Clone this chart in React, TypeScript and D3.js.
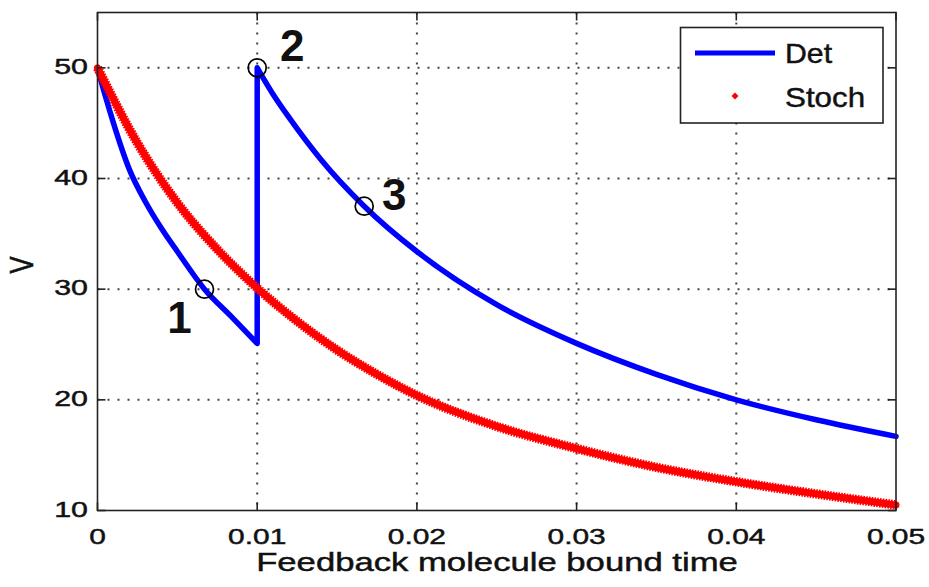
import React from "react";
import * as d3 from "d3";

// ---- data ----
const xTicks = [0, 0.01, 0.02, 0.03, 0.04, 0.05];
const xTickLabels = ["0", "0.01", "0.02", "0.03", "0.04", "0.05"];
const yTicks = [10, 20, 30, 40, 50];
const yTickLabels = ["10", "20", "30", "40", "50"];

// Deterministic: before the event (t <= 0.01)
const detT1 = [0, 0.0005, 0.001, 0.002, 0.003, 0.004, 0.005, 0.0067, 0.0084, 0.01];
const detV1 = [50, 47.4, 45.0, 40.8, 37.9, 35.5, 33.4, 30.0, 27.5, 25.1];
// Deterministic: after the reset (t >= 0.01)
const detT2 = [0.01, 0.011, 0.012, 0.014, 0.0167, 0.02, 0.025, 0.03, 0.035, 0.04, 0.045, 0.05];
const detV2 = [50, 47.6, 45.5, 41.7, 37.5, 33.4, 28.6, 25.1, 22.3, 20.0, 18.2, 16.7];

// Stochastic
const stT = [0, 0.0025, 0.005, 0.0075, 0.01, 0.0125, 0.015, 0.0175, 0.02, 0.025, 0.03, 0.035, 0.04, 0.045, 0.05];
const stV = [50, 43.2, 37.8, 33.6, 30.1, 27.1, 24.5, 22.3, 20.4, 17.6, 15.6, 13.9, 12.6, 11.5, 10.5];

// Annotated points
const markT = [0.0067, 0.01, 0.0167];
const markV = [30, 50, 37.5];
const markLabels = ["1", "2", "3"];

const legendLabels = ["Det", "Stoch"];
const xLabel = "Feedback molecule bound time";
const yLabel = "V";

// ---- layout ----
const W = 929, H = 587;
const L = 97.5, R = 896, TOP = 12.5, BOT = 510.5;
const FONT = "'Liberation Sans', Arial, Helvetica, sans-serif";

const x = d3.scaleLinear().domain([0, 0.05]).range([L, R]);
const y = d3.scaleLinear().domain([10, 55]).range([BOT, TOP]);

type P = [number, number];
const zip = (a: number[], b: number[]): P[] => a.map((t, i) => [t, b[i]]);

const lineGen = d3
  .line<P>()
  .x((d) => x(d[0]))
  .y((d) => y(d[1]))
  .curve(d3.curveMonotoneX);

const detPath =
  (lineGen(zip(detT1, detV1)) || "") +
  (lineGen(zip(detT2, detV2)) || "").replace(/^M/, "L");
const stPath = lineGen(zip(stT, stV)) || "";

function Txt(props: {
  x: number;
  y: number;
  sx?: number;
  size: number;
  anchor?: string;
  weight?: string | number;
  rotate?: number;
  stroke?: number;
  children: React.ReactNode;
}) {
  const { sx = 1, rotate } = props;
  return (
    <text
      transform={`translate(${props.x},${props.y}) scale(${sx},1)${rotate ? ` rotate(${rotate})` : ""}`}
      fontSize={props.size}
      textAnchor={props.anchor || "start"}
      fontWeight={props.weight || "normal"}
      fontFamily={FONT}
      fill="#111"
      stroke="#111"
      strokeWidth={props.stroke ?? 0.45}
    >
      {props.children}
    </text>
  );
}

export default function App() {
  const tickLen = 8;
  return (
    <svg
      width={W}
      height={H}
      viewBox={`0 0 ${W} ${H}`}
      style={{ position: "absolute", left: 0, top: 0, background: "#fff" }}
    >
      <rect x={0} y={0} width={W} height={H} fill="#fff" />
      {/* grid */}
      <g stroke="#444" strokeWidth={2} strokeDasharray="2 8" fill="none">
        {xTicks.slice(1, -1).map((t) => (
          <line key={"gx" + t} x1={x(t)} x2={x(t)} y1={TOP} y2={BOT} />
        ))}
        {yTicks.slice(1).map((v) => (
          <line key={"gy" + v} x1={L} x2={R} y1={y(v)} y2={y(v)} />
        ))}
      </g>

      {/* deterministic */}
      <path d={detPath} fill="none" stroke="#0000ff" strokeWidth={5.5} strokeLinejoin="round" strokeLinecap="round" />

      {/* stochastic (dense dot markers) */}
      <path d={stPath} fill="none" stroke="#ff0000" strokeWidth={7} strokeLinecap="round" />
      <path d={stPath} fill="none" stroke="#ff0000" strokeWidth={9.5} strokeDasharray="1.6 1.2" />

      {/* annotated circles */}
      {markT.map((t, i) => (
        <circle key={"c" + i} cx={x(t)} cy={y(markV[i])} r={9} fill="none" stroke="#000" strokeWidth={1.7} />
      ))}
      {markT.map((t, i) => {
        const offs: P[] = [[-25, 44], [35, -7], [30, 4]];
        return (
          <Txt key={"ml" + i} x={x(t) + offs[i][0]} y={y(markV[i]) + offs[i][1]} size={44} weight="bold" anchor="middle" stroke={0}>
            {markLabels[i]}
          </Txt>
        );
      })}

      {/* frame */}
      <rect x={L} y={TOP} width={R - L} height={BOT - TOP} fill="none" stroke="#222" strokeWidth={1.6} />
      {/* ticks */}
      <g stroke="#222" strokeWidth={1.6}>
        {xTicks.map((t) => (
          <g key={"tx" + t}>
            <line x1={x(t)} x2={x(t)} y1={BOT} y2={BOT - tickLen} />
            <line x1={x(t)} x2={x(t)} y1={TOP} y2={TOP + tickLen} />
          </g>
        ))}
        {yTicks.map((v) => (
          <g key={"ty" + v}>
            <line x1={L} x2={L + tickLen} y1={y(v)} y2={y(v)} />
            <line x1={R} x2={R - tickLen} y1={y(v)} y2={y(v)} />
          </g>
        ))}
      </g>

      {/* tick labels */}
      {xTicks.map((t, i) => (
        <Txt key={"xl" + t} x={x(t)} y={544} size={22} sx={1.36} anchor="middle">
          {xTickLabels[i]}
        </Txt>
      ))}
      {yTicks.map((v, i) => (
        <Txt key={"yl" + v} x={88} y={y(v) + 6} size={22} sx={1.38} anchor="end">
          {yTickLabels[i]}
        </Txt>
      ))}

      {/* axis labels */}
      <Txt x={497} y={571} size={25.5} sx={1.36} anchor="middle">
        {xLabel}
      </Txt>
      <Txt x={33} y={265} size={25.5} sx={1.3} anchor="middle" rotate={-90}>
        {yLabel}
      </Txt>

      {/* legend */}
      <rect x={680.5} y={27.5} width={202.5} height={95.5} fill="#fff" stroke="#222" strokeWidth={1.6} />
      <line x1={695} x2={775} y1={53} y2={53} stroke="#0000ff" strokeWidth={5} />
      <path d="M735,92.5 L738.5,96 L735,99.5 L731.5,96 Z" fill="#ff0000" />
      <Txt x={785} y={63} size={28} sx={1.08} anchor="start">
        {legendLabels[0]}
      </Txt>
      <Txt x={785} y={107} size={28} sx={1.12} anchor="start">
        {legendLabels[1]}
      </Txt>
    </svg>
  );
}
